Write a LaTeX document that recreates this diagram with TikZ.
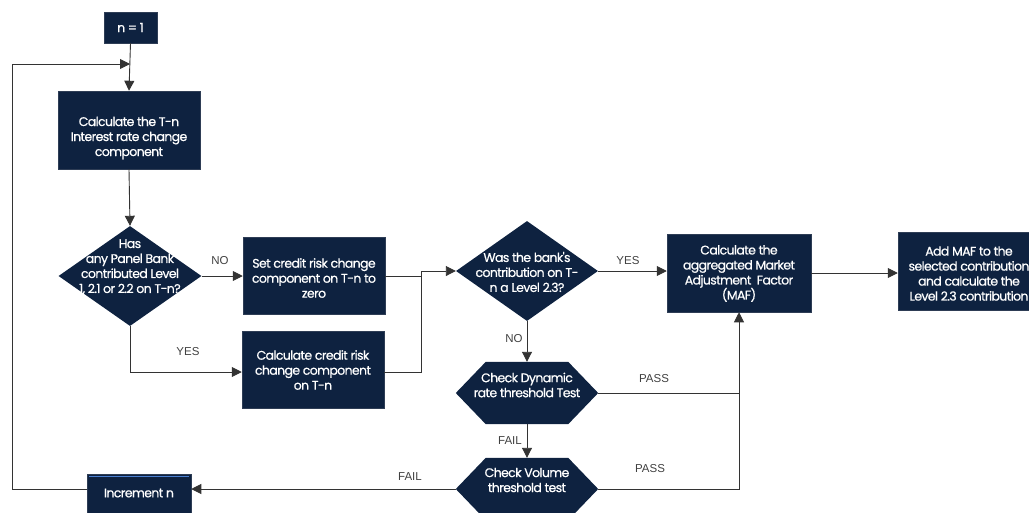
\documentclass[tikz,border=0pt]{standalone}
\usepackage{fontspec}
\usetikzlibrary{shapes.geometric,arrows.meta,calc}
\newfontfamily\pop[LetterSpace=-5,FakeBold=0.6]{Poppins}
\newfontfamily\labf{Liberation Sans}
\definecolor{navy}{HTML}{0E2240}
\definecolor{navyedge}{HTML}{2E3D55}
\definecolor{lblue}{HTML}{4A7FD0}
\definecolor{conn}{HTML}{333333}
\newcommand\hexfill[1]{\fill[navy] (#1.west) -- ($(#1.north west)+(30,0)$) -- ($(#1.north east)+(-30,0)$) -- (#1.east) -- ($(#1.south east)+(-30,0)$) -- ($(#1.south west)+(30,0)$) -- cycle;}
\begin{document}
\begin{tikzpicture}[x=1pt,y=-1pt,
  box/.style={rectangle,fill=navy,draw=navyedge,line width=0.5pt,inner sep=0pt},
  dia/.style={diamond,fill=navy,inner sep=0pt,minimum width=143pt,minimum height=100pt},
  hexbox/.style={rectangle,inner sep=0pt,minimum width=142pt,minimum height=62pt},
  txt/.style={text=white,font=\pop\fontsize{12.5}{15}\selectfont,align=center,inner sep=0pt},
  lbl/.style={text=black!75,font=\labf\fontsize{11.5}{13}\selectfont,inner sep=0pt},
  line/.style={draw=conn,line width=0.9pt},
  arr/.style={line,-{Triangle[length=10pt,width=10pt]}}]
\useasboundingbox (0,0) rectangle (1029,512);
% nodes
\node[box,minimum width=53pt,minimum height=31pt] (n1) at (130.5,27.5) {};
\node[txt] (n1t) at (130.5,27.5) {n = 1};
\node[box,minimum width=142pt,minimum height=78pt] (calc) at (129,130) {};
\node[txt] (calct) at (129,138) {Calculate the T-n\\Interest rate change\\component};
\node[dia] (d1) at (130,276) {};
\node[txt] (d1t) at (130,267) {Has\\any Panel Bank\\contributed Level\\1, 2.1 or 2.2 on T-n?};
\node[box,minimum width=142pt,minimum height=77pt] (set) at (314,276) {};
\node[txt] (sett) at (314,278) {Set credit risk change\\component on T-n to\\zero};
\node[box,minimum width=142pt,minimum height=77pt] (cc) at (313,370) {};
\node[txt] (cct) at (313,370) {Calculate credit risk\\change component\\on T-n};
\node[dia,minimum width=142pt] (d2) at (527,271) {};
\node[txt] (d2t) at (527,272) {Was the bank's\\contribution on T-\\n a Level 2.3?};
\node[box,minimum width=144pt,minimum height=78pt] (maf) at (739,273) {};
\node[txt] (maft) at (739,273.5) {Calculate the\\aggregated Market\\Adjustment\ \ Factor\\(MAF)};
\node[box,minimum width=144pt,minimum height=78pt] (add) at (970,271) {};
\node[txt] (addt) at (969,273.5) {Add MAF to the\\selected contribution\\and calculate the\\Level 2.3 contribution};
\node[hexbox] (h1) at (527,393) {};
\hexfill{h1}
\node[txt] (h1t) at (527,385) {Check Dynamic\\rate threshold Test};
\node[hexbox] (h2) at (527,489) {};
\hexfill{h2}
\node[txt] (h2t) at (527,480) {Check Volume\\threshold test};
\node[box,minimum width=104pt,minimum height=42pt] (inc) at (139,495) {};
\draw[lblue,line width=0.8pt] (89,476) -- (189,476);
\node[txt] (inct) at (139,493) {Increment n};
% junction coordinates
\coordinate (j0) at (130,64);
\coordinate (lp2) at (12,64);
\coordinate (lp1) at (12,489);
\coordinate (yc) at (130,372);
\coordinate (m1) at (421,276);
\coordinate (m2) at (421,372);
\coordinate (m3) at (421,271);
% connectors
\draw[arr] (n1.south) -- (calc.north);
\draw[arr] (inc.west |- h2.west) -- (lp1) -- (lp2) -- (j0);
\draw[arr] (calc.south) -- (d1.north);
\draw[arr] (d1.east) -- (set.west);
\draw[arr] (d1.south) -- (yc) -- (cc.west |- yc);
\draw[line] (set.east) -- (m1);
\draw[line] (cc.east |- m2) -- (m2) -- (m3);
\draw[arr] (m3) -- (d2.west);
\draw[arr] (d2.east) -- (d2.east -| maf.west);
\draw[arr] (maf.east) -- (maf.east -| add.west);
\draw[arr] (d2.south) -- (h1.north);
\draw[arr] (h1.south) -- (h2.north);
\draw[line] (h1.east) -- (h1.east -| maf.south);
\draw[arr] (h2.east) -| (maf.south);
\draw[arr] (h2.west) -- (inc.east |- h2.west);
% labels
\node[lbl] (lno1) at (220,261) {NO};
\node[lbl] (lyes1) at (188,352) {YES};
\node[lbl] (lyes2) at (628,261) {YES};
\node[lbl] (lno2) at (514,339) {NO};
\node[lbl] (lpass1) at (654,379) {PASS};
\node[lbl] (lfail1) at (510,441) {FAIL};
\node[lbl] (lpass2) at (650,469) {PASS};
\node[lbl] (lfail2) at (410,477) {FAIL};
\end{tikzpicture}
\end{document}
